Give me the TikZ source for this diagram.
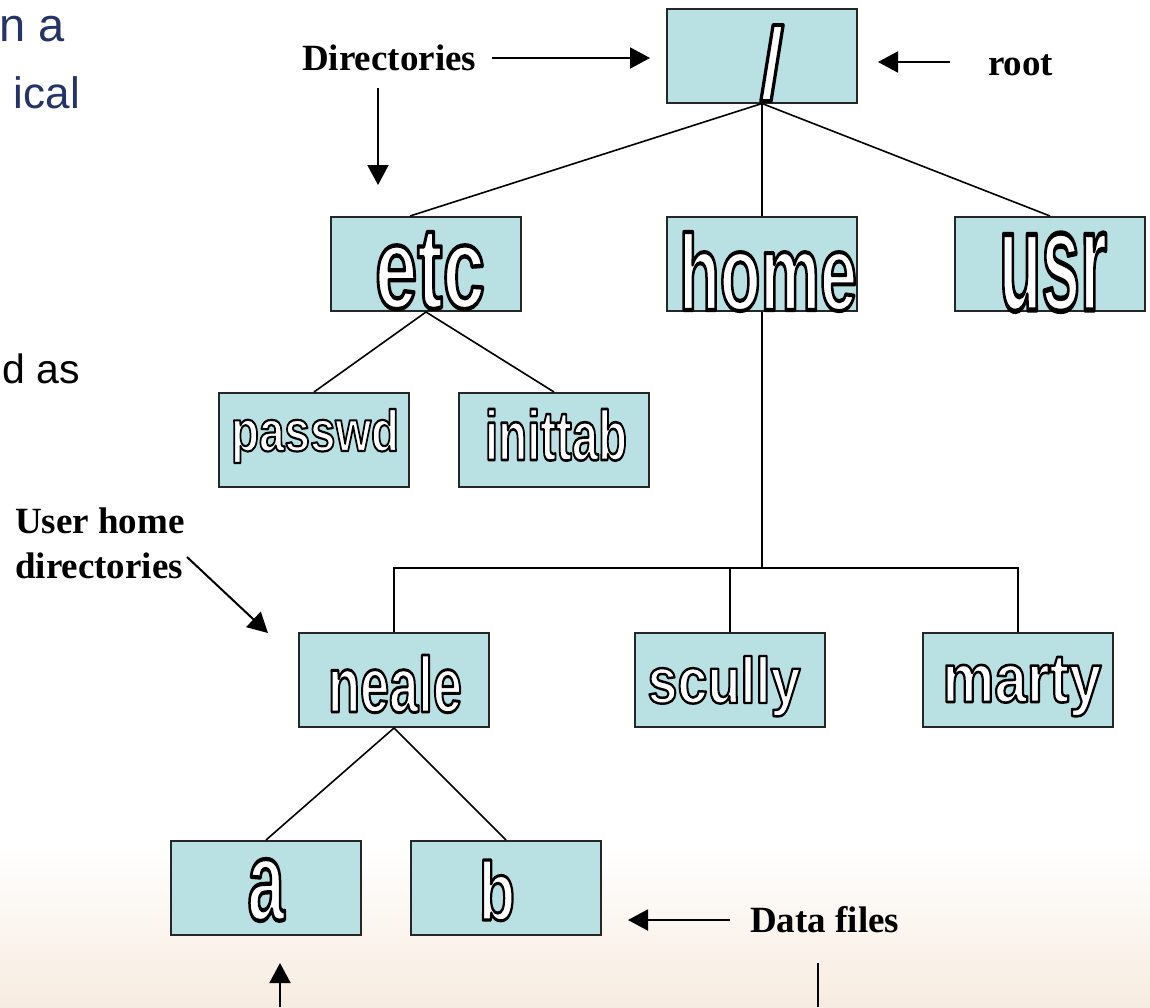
\documentclass[tikz,border=0pt]{standalone}
\usepackage{fontspec}
\setmainfont{Liberation Serif}
\newfontfamily\arialfont{Liberation Sans}
\usepackage{graphicx}
\usetikzlibrary{arrows.meta,calc}
\definecolor{boxfill}{RGB}{185,224,227}
\definecolor{slidetext}{RGB}{36,51,106}
\definecolor{peach}{RGB}{247,236,224}
\newcommand{\wart}[3]{\resizebox{#1pt}{#2pt}{\special{pdf:literal direct 1 g 0 G 2 Tr 3 w 1 j}{\arialfont\bfseries\fontsize{80}{80}\selectfont #3}}}
\tikzset{
  dirbox/.style={draw=black!85, line width=2pt, fill=boxfill, minimum width=190pt, minimum height=94pt, inner sep=0pt},
  word/.style={anchor=base, inner sep=0pt},
  tree/.style={line width=1.6pt, black},
  arr/.style={line width=2pt, -{Triangle[length=20pt,width=21pt]}},
  lbl/.style={font=\bfseries\fontsize{37}{45}\selectfont, inner sep=0pt},
  slide/.style={font=\arialfont\fontsize{44}{50}\selectfont, anchor=base east, inner sep=0pt}
}
\begin{document}
\begin{tikzpicture}[x=1pt,y=-1pt]
\useasboundingbox (0,0) rectangle (1150,1007);
\fill[white] (0,0) rectangle (1150,1007);
\shade[top color=white, bottom color=peach] (0,845) rectangle (1150,1007);

% partial slide text at left
\node[slide, text=slidetext, font=\arialfont\fontsize{47}{50}\selectfont] (s1) at (65,41) {n a};
\node[slide, text=slidetext] (s2) at (80,108) {ical};
\node[slide, text=black, font=\arialfont\fontsize{41}{50}\selectfont] (s3) at (80,383) {d as};

% boxes
\node[dirbox] (root) at (762,55.5) {};
\node[dirbox] (etc) at (426,264) {};
\node[dirbox] (home) at (762,264) {};
\node[dirbox] (usr) at (1050,264) {};
\node[dirbox] (passwd) at (314,440) {};
\node[dirbox] (inittab) at (554,440) {};
\node[dirbox] (neale) at (394,680) {};
\node[dirbox] (scully) at (730,680) {};
\node[dirbox] (marty) at (1018,680) {};
\node[dirbox] (a) at (266,888) {};
\node[dirbox] (b) at (506,888) {};

% box words
\node[word] (rootw) at (772,99) {\wart{24}{74}{/}};
\node[word] (etcw) at (430,308) {\wart{110}{76}{etc}};
\node[word] (homew) at (768,310) {\wart{178}{78}{home}};
\node[word] (usrw) at (1053,310) {\wart{108}{77}{usr}};
\node[word] (passwdw) at (315,451) {\wart{168}{42}{passwd}};
\node[word] (inittabw) at (556,460) {\wart{142}{51}{inittab}};
\node[word] (nealew) at (395,712) {\wart{134}{57}{neale}};
\node[word] (scullyw) at (724,703) {\wart{153}{47}{scully}};
\node[word] (martyw) at (1022,702) {\wart{159}{45}{marty}};
\node[word] (aw) at (266,920) {\wart{37}{61}{a}};
\node[word] (bw) at (497,920) {\wart{36}{60}{b}};

% tree connectors
\draw[tree] (root.south) -- ($(etc.north)+(-16,0)$);
\draw[tree] (root.south) -- (home.north);
\draw[tree] (root.south) -- (usr.north);
\draw[tree] (etc.south) -- (passwd.north);
\draw[tree] (etc.south) -- (inittab.north);
\coordinate (bar) at (762,568);
\draw[tree] (home.south) -- (bar);
\draw[tree] (neale.north) -- (neale.north |- bar) -- (marty.north |- bar) -- (marty.north);
\draw[tree] (scully.north) -- (scully.north |- bar);
\draw[tree] (neale.south) -- (a.north);
\draw[tree] (neale.south) -- (b.north);

% labels
\node[lbl, anchor=base west] (dirlbl) at (302,70) {Directories};
\node[lbl, anchor=base west] (rootlbl) at (988,75) {root};
\node[lbl, anchor=base west, align=left] (userlbl) at (15,578) {User home\\directories};
\node[lbl, anchor=base west] (datalbl) at (750,932) {Data files};

% label arrows
\coordinate (d1) at (492,58);
\coordinate (d1t) at (650,58);
\draw[arr] (d1) -- (d1t);
\coordinate (d2) at (378,88);
\coordinate (d2t) at (378,185);
\draw[arr] (d2) -- (d2t);
\coordinate (r1) at (950,62);
\coordinate (r1t) at (878,62);
\draw[arr] (r1) -- (r1t);
\coordinate (u1) at (187,557);
\coordinate (u1t) at (268,633);
\draw[arr] (u1) -- (u1t);
\coordinate (f1) at (730,920);
\coordinate (f1t) at (628,920);
\draw[arr] (f1) -- (f1t);
\coordinate (f2) at (280,1007);
\coordinate (f2t) at (280,963);
\draw[arr] (f2) -- (f2t);
\coordinate (f3) at (818,963);
\coordinate (f3e) at (818,1007);
\draw[line width=1.6pt] (f3) -- (f3e);
\end{tikzpicture}
\end{document}
